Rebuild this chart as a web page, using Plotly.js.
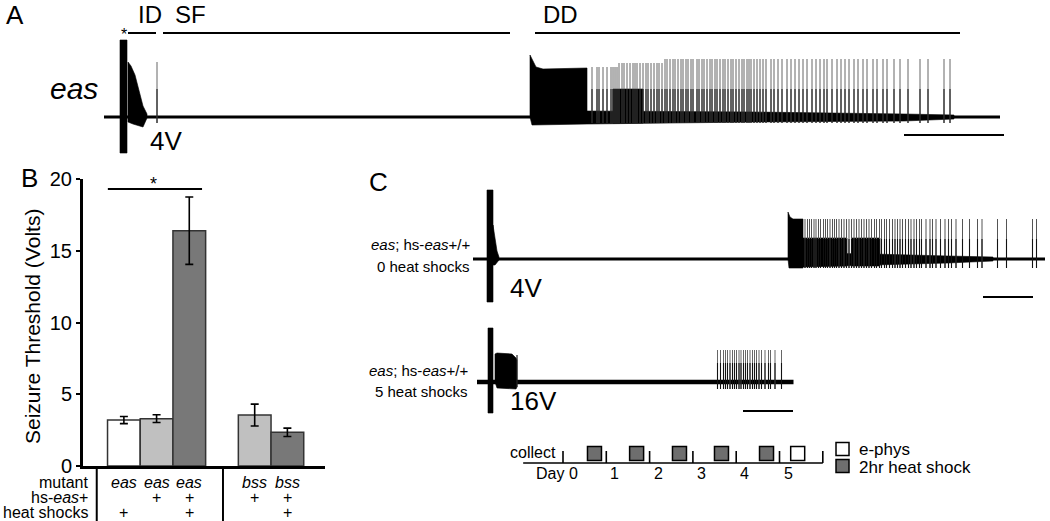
<!DOCTYPE html>
<html><head><meta charset="utf-8">
<script src="https://cdn.plot.ly/plotly-3.0.1.min.js"></script>
<style>html,body{margin:0;padding:0;background:#fff}#chart{width:1050px;height:521px}</style>
</head><body><div id="chart"></div>
<script>
// ================= DATA =================
// Panel B: seizure threshold
const groupMutant = ['eas','eas','eas','bss','bss'];
const groupHsEas = ['','+','+','+','+'];
const groupHeatShocks = ['+','','+','','+'];
const barPos = [0,1,2,4,5];
const thresholdMean = [3.2, 3.3, 16.4, 3.55, 2.35];
const thresholdSem = [0.25, 0.27, 2.35, 0.76, 0.29];
const barColors = ['#ffffff','#c0c0c0','#787878','#c0c0c0','#787878'];
const yTicksB = [0,5,10,15,20];

// Panel A: eas trace (time in s, amplitude in arbitrary units)
const aBaseline = [0, 89.6];
const aArtifactX = [1.6, 2.3];
const aArtifactY = [-36, 77];
const aIdEnvX = [2.4, 2.7, 3.1, 3.5, 3.9, 4.3, 4.3, 3.9, 3.5, 2.9, 2.4];
const aIdEnvY = [55, 51, 42, 27, 11, 3, -1, -10, -9, -7, -5];
const aSfSpikes = [5.3];
const aDdBlockX = [42.6, 42.6, 42.8, 43.2, 43.9, 48.3, 48.3, 43.9, 42.8];
const aDdBlockY = [0, 62, 58, 50, 48, 49, -7, -8, -8];
const aDdDenseX = [50.9, 53.9];
const aDdNoiseX = [48.3, 65, 80, 85, 85, 80, 65, 48.3];
const aDdNoiseY = [6, 5, 3, 2, -2, -4, -5, -7];
const aSpikesEarly = [48.8, 49.3, 49.5, 49.9, 50.3, 50.7, 50.9, 51.1, 51.3];
const aSpikesMid = [51.5, 51.8, 52.0, 52.3, 52.6, 52.9, 53.1, 53.3, 53.6, 53.9, 54.2, 54.4, 54.7, 55.0, 55.3, 55.5, 55.8];
const aSpikesLate = [56.1, 56.3, 56.6, 56.9, 57.1, 57.4, 57.7, 57.9, 58.2, 58.4, 58.7, 58.9, 59.3, 59.5, 59.8, 60.0, 60.3, 60.6, 60.8, 61.1, 61.3, 61.6, 61.9, 62.1, 62.4, 62.7, 62.9, 63.2, 63.5, 63.8, 64.0, 64.3, 64.5, 64.7, 65.0, 65.3, 65.6, 65.9, 66.2, 66.7, 67.0, 67.4, 67.8, 68.3, 68.7, 69.1, 69.5, 69.9, 70.3, 70.8, 71.2, 71.6, 72.0, 72.3, 72.8, 73.3, 73.7, 74.1, 74.5, 75.0, 75.4, 75.9, 76.3, 76.9, 77.3, 77.9, 78.3, 79.0, 79.6, 80.4, 81.6, 82.4, 84.0, 84.6];
const aPhaseName = ['ID','SF','DD'];
const aPhaseStart = [2.4, 5.9, 43.1];
const aPhaseEnd = [5.2, 40.6, 85.6];
const aScaleBar = [80, 90];

// Panel C top: eas; hs-eas+/+, 0 heat shocks
const cTopBaseline = [0, 114.4];
const cTopArtifactX = [2.8, 4.0];
const cTopArtifactY = [-43, 69];
const cTopDecayX = [4.0, 4.4, 4.8, 5.2, 5.2, 4.4, 4.0];
const cTopDecayY = [34, 22, 8, 2, -1, -6, -6];
const cTopBlockX = [63.0, 63.0, 63.4, 64.0, 66.0, 66.0, 63.2];
const cTopBlockY = [0, 47, 42, 40, 40, -9, -9];
const cTopDenseStart = [66.0, 75.8];
const cTopDenseEnd = [74.8, 81.4];
const cTopNoiseX = [66, 80, 95, 104, 104, 95, 80, 66];
const cTopNoiseY = [6, 5, 3, 2, -2, -4, -6, -8];
const cTopSpikes = [66.4, 66.9, 67.3, 67.7, 68.2, 68.6, 69.1, 69.5, 70.1, 70.5, 70.9, 71.4, 71.9, 72.3, 72.7, 73.2, 73.7, 74.2, 74.7, 75.2, 75.7, 76.2, 76.7, 77.2, 77.7, 78.2, 78.7, 79.2, 79.7, 80.3, 80.7, 81.3, 81.7, 82.3, 82.7, 83.3, 83.9, 84.4, 84.9, 85.4, 85.9, 86.5, 87.1, 87.6, 88.2, 88.7, 89.3, 89.7, 90.6, 91.4, 91.9, 92.6, 93.5, 94.4, 95.1, 95.7, 96.6, 97.9, 99.3, 100.9, 101.8, 104.9, 106.7, 111.9, 112.7];
const cTopScaleBar = [102.0, 112.0];

// Panel C bottom: eas; hs-eas+/+, 5 heat shocks
const cBotBaseline = [0, 63.3];
const cBotArtifactX = [2.2, 3.2];
const cBotArtifactY = [-31, 54];
const cBotBurstX = [3.6, 3.6, 4.0, 7.0, 7.8, 8.0, 8.0, 7.8, 4.0];
const cBotBurstY = [0, 28, 29, 28, 24, 22, -5, -7, -6];
const cBotBurstSpikes = [8.0];
const cBotSpikes = [48.1, 48.7, 49.3, 49.7, 50.1, 50.6, 51.1, 51.5, 51.9, 52.4, 52.8, 53.3, 53.7, 54.1, 54.6, 55.1, 55.5, 55.9, 56.4, 56.9, 57.6, 58.3, 58.7, 59.6, 60.9];
const cBotScaleBar = [53.2, 63.2];

// Panel C timeline (days)
const timelineSpan = [-0.92, 6.0];
const dayTicks = [0, 1, 2, 3, 4, 5, 6];
const dayLabels = ['Day 0', '1', '2', '3', '4', '5'];
const heatShockDays = [0.727, 1.70, 2.69, 3.66, 4.70];
const ephysDays = [5.42];

// ================= HELPERS =================
const FONT = 'Liberation Sans, Arial, Helvetica, sans-serif';
const W = 1050, H = 521;
const px = v => v / W;
const py = v => 1 - v / H;
function spikes(times, low, high) {
  const x = [], y = [];
  times.forEach(t => { x.push(t, t, null); y.push(low, high, null); });
  return {x, y};
}
function rect(xs, y0, y1) {
  return {x: [xs[0], xs[1], xs[1], xs[0], xs[0]], y: [y0, y0, y1, y1, y0]};
}
function poly(x, y, ax, color) {
  return {type:'scatter', mode:'lines', x: x.concat([x[0]]), y: y.concat([y[0]]), fill:'toself',
    fillcolor: color || '#000', line:{color: color || '#000', width:0.6}, xaxis:'x'+ax, yaxis:'y'+ax, hoverinfo:'skip'};
}
function line(x, y, ax, w, c) {
  return {type:'scatter', mode:'lines', x, y, line:{color: c || '#000', width: w}, xaxis:'x'+ax, yaxis:'y'+ax,
    hoverinfo:'skip', connectgaps:false, cliponaxis:false};
}
function ann(text, x, y, size, xanchor, extra) {
  return Object.assign({text, x: px(x), y: py(y), xref:'paper', yref:'paper', showarrow:false,
    font:{family: FONT, size, color:'#000'}, xanchor: xanchor || 'left', yanchor:'middle'}, extra || {});
}

const traces = [];

// ---- Panel B bars ----
traces.push({type:'bar', x: barPos, y: thresholdMean, width: 1,
  marker:{color: barColors, line:{color:'#333', width:1.5}},
  error_y:{type:'data', array: thresholdSem, visible:true, color:'#000', thickness:1.6, width:4},
  xaxis:'x', yaxis:'y', hoverinfo:'skip'});

// ---- Panel A ----
traces.push(poly(aDdNoiseX, aDdNoiseY, 2));
traces.push(line(aBaseline, [0,0], 2, 3));
(() => { const r = rect(aArtifactX, aArtifactY[0], aArtifactY[1]); traces.push(poly(r.x, r.y, 2)); })();
traces.push(poly(aIdEnvX, aIdEnvY, 2));
traces.push(poly(aDdBlockX, aDdBlockY, 2));
(() => { const r = rect(aDdDenseX, -6, 28); traces.push(poly(r.x, r.y, 2)); })();
[[aSpikesEarly, 50], [aSpikesMid, 54], [aSpikesLate, 58], [aSfSpikes, 55]].forEach(([t, h]) => {
  const s = spikes(t, -6, h); traces.push(line(s.x, s.y, 2, 1, '#666'));
  const s2 = spikes(t, -6, 28); traces.push(line(s2.x, s2.y, 2, 1, '#111'));
});
(() => { const x = [], y = [];
  aPhaseStart.forEach((s, i) => { x.push(s, aPhaseEnd[i], null); y.push(84, 84, null); });
  traces.push(line(x, y, 2, 2)); })();
traces.push(line(aScaleBar, [-18, -18], 2, 2));

// ---- Panel C top ----
traces.push(poly(cTopNoiseX, cTopNoiseY, 3));
traces.push(line(cTopBaseline, [0,0], 3, 3));
(() => { const r = rect(cTopArtifactX, cTopArtifactY[0], cTopArtifactY[1]); traces.push(poly(r.x, r.y, 3)); })();
traces.push(poly(cTopDecayX, cTopDecayY, 3));
traces.push(poly(cTopBlockX, cTopBlockY, 3));
cTopDenseStart.forEach((s, i) => { const r = rect([s, cTopDenseEnd[i]], -7, 21); traces.push(poly(r.x, r.y, 3)); });
(() => { const s = spikes(cTopSpikes, -9, 40); traces.push(line(s.x, s.y, 3, 1, '#555'));
  const s2 = spikes(cTopSpikes, -9, 20); traces.push(line(s2.x, s2.y, 3, 1.1, '#111')); })();
traces.push(line(cTopScaleBar, [-38, -38], 3, 2));

// ---- Panel C bottom ----
traces.push(line(cBotBaseline, [0,0], 4, 4.5));
(() => { const r = rect(cBotArtifactX, cBotArtifactY[0], cBotArtifactY[1]); traces.push(poly(r.x, r.y, 4)); })();
traces.push(poly(cBotBurstX, cBotBurstY, 4));
(() => { const s = spikes(cBotBurstSpikes, -5, 27); traces.push(line(s.x, s.y, 4, 1.2, '#222')); })();
(() => { const s = spikes(cBotSpikes, -7, 32); traces.push(line(s.x, s.y, 4, 1, '#666'));
  const s2 = spikes(cBotSpikes, -7, 19); traces.push(line(s2.x, s2.y, 4, 1.1, '#111')); })();
traces.push(line(cBotScaleBar, [-29, -29], 4, 2));

// ---- Panel C timeline ----
traces.push(line(timelineSpan, [0,0], 5, 1.6));
(() => { const s = spikes(dayTicks, 0, 12); traces.push(line(s.x, s.y, 5, 1.6)); })();
traces.push({type:'scatter', mode:'markers', x: heatShockDays, y: heatShockDays.map(() => 9.5),
  marker:{symbol:'square', size:14, color:'#6e6e6e', line:{color:'#000', width:1.5}},
  xaxis:'x5', yaxis:'y5', hoverinfo:'skip', cliponaxis:false});
traces.push({type:'scatter', mode:'markers', x: ephysDays, y: ephysDays.map(() => 9.5),
  marker:{symbol:'square', size:14, color:'#ffffff', line:{color:'#000', width:1.5}},
  xaxis:'x5', yaxis:'y5', hoverinfo:'skip', cliponaxis:false});
// legend swatches
traces.push({type:'scatter', mode:'markers', x:[6.455, 6.455], y:[14, -3],
  marker:{symbol:'square', size:13, color:['#ffffff','#6e6e6e'], line:{color:'#000', width:1.5}},
  xaxis:'x5', yaxis:'y5', hoverinfo:'skip', cliponaxis:false});

// ================= ANNOTATIONS =================
const tbl = {borderpad:0};
const annotations = [
  ann('A', 4, 15, 26), ann('B', 19, 178, 26), ann('C', 367, 182, 26),
  ann('<i>eas</i>', 100, 89, 30, 'right'),
  ann('4V', 148, 141, 26),
  ann('*', 124, 34, 16, 'center'),
  ann('*', 153, 184, 18, 'center'),
  ann('<i>eas</i>; hs-<i>eas</i>+/+', 472, 245, 15, 'right'),
  ann('0 heat shocks', 472, 266, 15, 'right'),
  ann('4V', 508, 288, 26),
  ann('<i>eas</i>; hs-<i>eas</i>+/+', 470, 370, 15, 'right'),
  ann('5 heat shocks', 470, 391, 15, 'right'),
  ann('16V', 508, 401, 26),
  ann('collect', 558, 452, 16, 'right'),
  ann('e-phys', 857, 449, 17), ann('2hr heat shock', 857, 467, 17),
  ann('Seizure Threshold (Volts)', 32, 327, 21, 'center', {textangle:-90}),
  ann('mutant', 89, 482, 16, 'right', tbl),
  ann('hs-<i>eas</i>+', 89, 497, 16, 'right', tbl),
  ann('heat shocks', 89, 512, 16, 'right', tbl),
];
const aPhaseLabelOffset = [0.8, 1.0, 0.6];
aPhaseName.forEach((n, i) => annotations.push({text:n, x: aPhaseStart[i] + aPhaseLabelOffset[i], y: 103, xref:'x2', yref:'y2',
  showarrow:false, font:{family:FONT, size:24, color:'#000'}, xanchor:'left', yanchor:'middle'}));
dayLabels.forEach((d, i) => annotations.push({text:d, x: dayTicks[i] + 0.2, y: -10, xref:'x5', yref:'y5',
  showarrow:false, font:{family:FONT, size:16, color:'#000'}, xanchor: i === 0 ? 'right' : 'center', yanchor:'middle',
  xshift: i === 0 ? 8 : 0}));
barPos.forEach((b, i) => {
  [[groupMutant[i], 482, true], [groupHsEas[i], 497, false], [groupHeatShocks[i], 512, false]].forEach(([t, yy, it]) => {
    if (t) annotations.push({text: it ? '<i>'+t+'</i>' : t, x: b, y: py(yy), xref:'x', yref:'paper', showarrow:false,
      borderpad:0, font:{family:FONT, size:16, color:'#000'}, xanchor:'center', yanchor:'middle'});
  });
});

const shapes = [
  {type:'line', xref:'x', yref:'y', x0:-0.49, x1:2.39, y0:19.3, y1:19.3, line:{color:'#000', width:2}},
  {type:'line', xref:'x', yref:'paper', x0:-0.83, x1:-0.83, y0:py(468), y1:0, line:{color:'#000', width:2}},
  {type:'line', xref:'x', yref:'paper', x0:3.03, x1:3.03, y0:py(468), y1:0, line:{color:'#000', width:2}},
];

const hidden = {visible:false, fixedrange:true};
const layout = {
  width: W, height: H, margin:{l:0, r:0, t:0, b:0}, showlegend:false,
  paper_bgcolor:'#fff', plot_bgcolor:'rgba(0,0,0,0)', font:{family:FONT, color:'#000'},
  bargap:0,
  xaxis:{domain:[px(83), px(325)], range:[-1.25, 6.15], showline:true, linewidth:3, linecolor:'#000',
    showticklabels:false, ticks:'', showgrid:false, zeroline:false, fixedrange:true, anchor:'y'},
  yaxis:{domain:[py(466), py(179)], range:[0, 20], tickvals:yTicksB, ticks:'outside', ticklen:4, tickwidth:2,
    tickcolor:'#000', showline:true, linewidth:3, linecolor:'#000', showgrid:false, zeroline:false,
    tickfont:{family:FONT, size:20, color:'#000'}, fixedrange:true, anchor:'x'},
  xaxis2:Object.assign({domain:[px(104), px(1004)], range:[0, 90], anchor:'y2'}, hidden),
  yaxis2:Object.assign({domain:[py(160), 1], range:[-43, 117], anchor:'x2'}, hidden),
  xaxis3:Object.assign({domain:[px(473), 1], range:[0, 115.4], anchor:'y3'}, hidden),
  yaxis3:Object.assign({domain:[py(305), py(180)], range:[-46, 79], anchor:'x3'}, hidden),
  xaxis4:Object.assign({domain:[px(477), px(800)], range:[0, 64.6], anchor:'y4'}, hidden),
  yaxis4:Object.assign({domain:[py(420), py(320)], range:[-38, 62], anchor:'x4'}, hidden),
  xaxis5:Object.assign({domain:[px(500), px(850)], range:[-1.455, 6.628], anchor:'y5'}, hidden),
  yaxis5:Object.assign({domain:[py(490), py(435)], range:[-27, 28], anchor:'x5'}, hidden),
  annotations, shapes
};
Plotly.newPlot('chart', traces, layout, {displayModeBar:false, staticPlot:true});
</script></body></html>
